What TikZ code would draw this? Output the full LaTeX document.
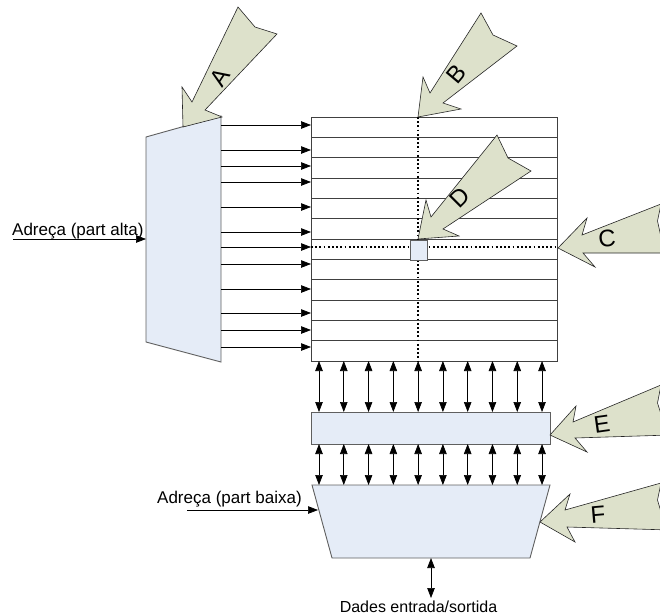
\documentclass[tikz,border=0pt]{standalone}
\usepackage{fontspec}
\setmainfont{Liberation Sans}
\usetikzlibrary{arrows.meta}
\definecolor{callfill}{RGB}{221,225,203}
\definecolor{blockfill}{RGB}{229,236,247}
\definecolor{blockline}{RGB}{95,95,95}

\begin{document}
\begin{tikzpicture}[x=1pt,y=-1pt,
  block/.style={fill=blockfill,draw=blockline,line width=0.9pt},
  callout/.style={fill=callfill,draw=black!85,line width=0.6pt,line join=miter},
  gridline/.style={draw=black!75,line width=0.7pt},
  probe/.style={draw=black,line width=1.4pt,dash pattern=on 1.8pt off 2.4pt},
  wire/.style={draw=black,line width=0.7pt,-{Triangle[length=10pt,width=7.5pt]}},
  bus/.style={draw=black,line width=0.7pt,{Triangle[length=10pt,width=7.5pt]}-{Triangle[length=10pt,width=7.5pt]}},
  letter/.style={font=\fontsize{24}{24}\selectfont,inner sep=0pt},
  lbl/.style={inner sep=0pt,font=\fontsize{17}{17}\selectfont}]
\useasboundingbox (0,0) rectangle (660,615);
\clip (0,0) rectangle (660,615);

% ---- row decoder -------------------------------------------------
\draw[block] (146,137) -- (221,116) -- (221,362) -- (146,342) -- cycle;
\coordinate (decin) at (146,239);

% ---- memory cell array -------------------------------------------
\node[draw=black!75,line width=0.8pt,minimum width=246pt,minimum height=244pt,
      inner sep=0pt,anchor=north west] (array) at (311,117) {};
\foreach \k in {1,...,11}
  \draw[gridline] (311,117+\k*20.333) -- (557,117+\k*20.333);

% selected row and column
\draw[probe] (418,117) -- (418,361);
\draw[probe] (311,247) -- (557,247);
\node[block,line width=0.8pt,minimum width=17pt,minimum height=20pt,inner sep=0pt]
  (cell) at (418.5,250) {};

% word lines from the decoder
\foreach \y in {125,150,166,182,207,232,247,264,289,313,330,347}
  \draw[wire] (221,\y) -- (311,\y);

% high address input
\node[lbl,anchor=base west] (hiaddr) at (12,235) {Adreça (part alta)};
\coordinate (histart) at (13,239);
\draw[wire] (histart) -- (decin);

% ---- sense amplifier / buffer row -------------------------------
\node[block,minimum width=239pt,minimum height=32pt,inner sep=0pt,anchor=north west]
  (buf) at (311,412) {};

% ---- column multiplexer ------------------------------------------
\draw[block] (312,485) -- (550,485) -- (530,558) -- (332,558) -- cycle;
\coordinate (muxin) at (318,510);
\coordinate (muxout) at (431,558);

\foreach \i in {0,...,9}{
  \pgfmathsetmacro\xx{319+24.78*\i}
  \draw[bus] (\xx,361) -- (\xx,412);
  \draw[bus] (\xx,444) -- (\xx,485);
}

% low address input
\node[lbl,anchor=base west] (loaddr) at (157,503) {Adreça (part baixa)};
\coordinate (lostart) at (187,510);
\draw[wire] (lostart) -- (muxin);

% data in/out
\node[anchor=base,inner sep=0pt,font=\fontsize{16}{16}\selectfont] (data) at (418.5,612) {Dades entrada/sortida};
\coordinate (dataend) at (431,598);
\draw[bus] (muxout) -- (dataend);

% ---- pointer arrows ----------------------------------------------
\draw[callout] (183,127) -- (182,87) -- (192,102) -- (238,7) -- (255,27) -- (277,34)
  -- (205,110) -- (222,117) -- cycle;
\node[letter,rotate=57] (la) at (220,77) {A};

\draw[callout] (418,117) -- (423,77) -- (430,93) -- (481,13) -- (493,35) -- (517,46)
  -- (443,103) -- (461,109) -- cycle;
\node[letter,rotate=50] (lb) at (456,74) {B};

\draw[callout] (418,239) -- (426,200) -- (431,217) -- (497,135) -- (508,158) -- (531,171)
  -- (443,229) -- (459,236) -- cycle;
\node[letter,rotate=45] (ld) at (460,198) {D};

\draw[callout] (558,248) -- (587,218) -- (582,235) -- (661,204) -- (657.5,221)
  -- (661,237) -- (670,237) -- (670,253) -- (583,253) -- (595,267) -- cycle;
\node[letter,rotate=5] (lc) at (607,239) {C};

\draw[callout] (550,435) -- (576,406) -- (573,422) -- (661,385) -- (657.5,403)
  -- (661,414) -- (670,414) -- (670,435) -- (575,438) -- (587,452) -- cycle;
\node[letter,rotate=8] (le) at (602,424) {E};

\draw[callout] (540,522) -- (570,494) -- (565,510) -- (661,483) -- (657.5,500)
  -- (661,512) -- (670,512) -- (670,530) -- (567,527) -- (575,542) -- cycle;
\node[letter,rotate=5] (lf) at (598,515) {F};
\end{tikzpicture}
\end{document}
